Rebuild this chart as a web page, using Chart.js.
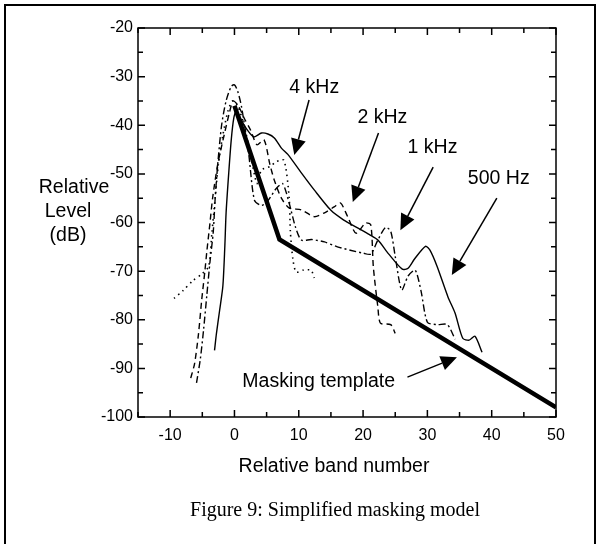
<!DOCTYPE html>
<html>
<head>
<meta charset="utf-8">
<script src="https://cdn.jsdelivr.net/npm/chart.js@4.4.0/dist/chart.umd.min.js"></script>
<style>
  html, body { margin: 0; padding: 0; background: #fff; }
  #wrap { width: 600px; height: 544px; }
</style>
</head>
<body>
<div id="wrap"><canvas id="maskChart" width="600" height="544"></canvas></div>
<script>
// Tick labels
var xTickLabels = [-10, 0, 10, 20, 30, 40, 50];
var yTickLabels = [-100, -90, -80, -70, -60, -50, -40, -30, -20];

// Curves: [band, dB]
var curve4k = [[-3.1,-86.3],[-2.8,-82.8],[-2.3,-78],[-1.8,-73],[-1.5,-65],[-1.3,-58],[-0.9,-50],[-0.5,-43],[-0.1,-38.5],[0.3,-37],
  [1.5,-40],[3,-42.4],[4.2,-41.6],[5.2,-41.8],[6.2,-42.6],[7.3,-44.7],[8.3,-46],[10.4,-49.8],[12.4,-53.3],[15,-57.5],[17,-59.5],
  [19,-61],[21,-62.5],[22.3,-63.6],[24,-66.5],[26.1,-69.6],[27,-69.4],[28,-67.5],[29.7,-64.9],[30.4,-65.7],[31.5,-69],[33.2,-75.3],
  [34.3,-78.6],[35.5,-83.8],[36.5,-84.2],[37.4,-83.4],[38.5,-86.7]];

var curve2k = [[-6.8,-92],[-6.2,-89],[-5.6,-83],[-5.1,-76],[-4.6,-70],[-4.3,-66],[-3.8,-60],[-3.4,-55],[-2.6,-48],[-1.6,-42],
  [-0.8,-37.5],[-0.2,-35],[0.6,-36],[1.5,-38.5],[2.5,-41],[3.5,-44],[4.6,-43],[5.5,-48],[6.2,-51.3],[7.3,-55],[8.5,-57],[10.4,-57.4],
  [12.4,-58.8],[14,-58],[15.5,-56.8],[16.5,-56],[17.6,-58.8],[18.9,-62.2],[20.4,-60.1],[21.2,-60.5],[21.6,-69.2],[22.3,-77.4],
  [22.7,-80.7],[24.3,-81],[25,-82.8]];

var curve1k = [[-5.9,-93],[-5.3,-88],[-4.8,-82],[-4.3,-75],[-3.8,-68],[-3.3,-62],[-3,-55],[-2.6,-48],[-2,-40],[-1.3,-35],
  [-0.5,-32],[0,-31.7],[0.5,-33],[1.1,-36.2],[2.2,-45.7],[3.1,-55.4],[4.2,-56.5],[5.2,-55.5],[6.5,-53],[7.5,-52],[8.5,-56],
  [9.5,-61],[10.4,-63.6],[12,-63.5],[14,-64],[16,-65],[18,-65.7],[20,-66.3],[21.2,-66.5],[22.3,-63.6],[23.5,-61],[24.3,-61.8],
  [25,-67],[26,-73.9],[27,-71],[28.1,-69.8],[29,-74],[30,-80.5],[31.5,-81],[33.1,-81],[34.3,-84]];

var curve500 = [[-9.4,-75.6],[-8,-74],[-6.5,-72],[-5,-70.5],[-4,-69],[-3.5,-62],[-3,-55],[-2.5,-48],[-1.8,-42],[-1,-37],
  [-0.3,-35],[0.5,-36],[1.5,-40],[2.5,-46],[3.5,-52],[4.2,-49.2],[5.5,-48.5],[6.5,-47.5],[7.7,-47.2],[8.5,-54.8],[8.7,-62],
  [9.1,-67.7],[9.6,-70.2],[10.7,-69.8],[11.9,-69.8],[12.4,-71.4]];

var template = [[0,-36],[7,-63.5],[50,-98]];

// Annotation labels with text anchor and arrow (start -> tip), in data units
var noteText = ['4 kHz', '2 kHz', '1 kHz', '500 Hz', 'Masking template'];
var noteAt = [[12.4,-32.3],[23.0,-38.5],[30.8,-44.7],[41.1,-50.9],[13.1,-92.8]];
var noteArrow = [[11.6,-34.8,9.3,-46.1],[22.4,-41.6,18.4,-55.8],[30.9,-48.6,25.8,-61.6],[40.8,-55,33.8,-70.8],[26.9,-91.8,34.6,-87.7]];

function toXY(pts) {
  return pts.map(function (p) { return { x: p[0], y: p[1] }; });
}

Chart.defaults.font.family = '"Liberation Sans", Arial, sans-serif';
Chart.defaults.color = '#000';

var decor = {
  id: 'decor',
  beforeDraw: function (chart) {
    var ctx = chart.ctx;
    ctx.save();
    ctx.fillStyle = '#fff';
    ctx.fillRect(0, 0, chart.width, chart.height);
    // outer figure frame
    ctx.strokeStyle = '#000';
    ctx.lineWidth = 2;
    ctx.beginPath();
    ctx.moveTo(5, chart.height + 5);
    ctx.lineTo(5, 5);
    ctx.lineTo(595, 5);
    ctx.lineTo(595, chart.height + 5);
    ctx.stroke();
    ctx.restore();
  },
  afterDraw: function (chart) {
    var ctx = chart.ctx, a = chart.chartArea, x = chart.scales.x, y = chart.scales.y;
    ctx.save();
    ctx.strokeStyle = '#000';
    ctx.lineWidth = 1.5;
    ctx.strokeRect(a.left, a.top, a.right - a.left, a.bottom - a.top);

    // inward tick marks on all four sides
    ctx.beginPath();
    x.ticks.forEach(function (t) {
      var px = x.getPixelForValue(t.value);
      var len = t.value % 10 === 0 ? 7 : 5;
      ctx.moveTo(px, a.bottom); ctx.lineTo(px, a.bottom - len);
      ctx.moveTo(px, a.top); ctx.lineTo(px, a.top + len);
    });
    y.ticks.forEach(function (t) {
      var py = y.getPixelForValue(t.value);
      var len = t.value % 10 === 0 ? 7 : 5;
      ctx.moveTo(a.left, py); ctx.lineTo(a.left + len, py);
      ctx.moveTo(a.right, py); ctx.lineTo(a.right - len, py);
    });
    ctx.stroke();

    // annotations
    ctx.font = '19.5px "Liberation Sans", Arial, sans-serif';
    ctx.fillStyle = '#000';
    ctx.textAlign = 'center';
    ctx.textBaseline = 'middle';
    ctx.lineWidth = 1.5;
    noteText.forEach(function (txt, i) {
      ctx.fillText(txt, x.getPixelForValue(noteAt[i][0]), y.getPixelForValue(noteAt[i][1]));
      var ar = noteArrow[i];
      var x0 = x.getPixelForValue(ar[0]), y0 = y.getPixelForValue(ar[1]);
      var x1 = x.getPixelForValue(ar[2]), y1 = y.getPixelForValue(ar[3]);
      var ang = Math.atan2(y1 - y0, x1 - x0);
      var hl = 16, hw = 7.5;
      var bx = x1 - hl * Math.cos(ang), by = y1 - hl * Math.sin(ang);
      ctx.beginPath();
      ctx.moveTo(x0, y0); ctx.lineTo(bx, by);
      ctx.stroke();
      ctx.beginPath();
      ctx.moveTo(x1, y1);
      ctx.lineTo(bx + hw * Math.sin(ang), by - hw * Math.cos(ang));
      ctx.lineTo(bx - hw * Math.sin(ang), by + hw * Math.cos(ang));
      ctx.closePath();
      ctx.fill();
    });

    // axis titles
    ctx.fillText('Relative band number', 334, 467);
    ctx.fillText('Relative', 74, 188);
    ctx.fillText('Level', 68, 212);
    ctx.fillText('(dB)', 68, 236);

    // caption
    ctx.font = '20px "Liberation Serif", "Times New Roman", serif';
    ctx.fillText('Figure 9: Simplified masking model', 335, 511);
    ctx.restore();
  }
};

var ctx = document.getElementById('maskChart').getContext('2d');

var data = {
  datasets: [
    { label: '4 kHz', data: toXY(curve4k), borderColor: '#000', borderWidth: 1.4, tension: 0.25 },
    { label: '2 kHz', data: toXY(curve2k), borderColor: '#000', borderWidth: 1.4, borderDash: [6, 4], tension: 0.25 },
    { label: '1 kHz', data: toXY(curve1k), borderColor: '#000', borderWidth: 1.4, borderDash: [7, 3, 2, 3], tension: 0.25 },
    { label: '500 Hz', data: toXY(curve500), borderColor: '#000', borderWidth: 1.6, borderDash: [1.5, 4], tension: 0.25 },
    { label: 'Masking template', data: toXY(template), borderColor: '#000', borderWidth: 4.5, tension: 0 },
  ],
};

var options = {
  responsive: false,
  animation: false,
  events: [],
  layout: { padding: { top: 28, right: 44, left: 0, bottom: 0 } },
  elements: { point: { radius: 0 } },
  plugins: { legend: { display: false }, tooltip: { enabled: false } },
  scales: {
    x: {
      type: 'linear',
      min: -15,
      max: 50,
      grid: { display: false, drawTicks: false },
      border: { display: false },
      ticks: {
        stepSize: 5,
        padding: 9,
        maxRotation: 0,
        font: { size: 16 },
        callback: function (v) { return xTickLabels.indexOf(v) >= 0 ? String(v) : ''; },
      },
      afterFit: function (s) { s.height = 127; },
    },
    y: {
      type: 'linear',
      min: -100,
      max: -20,
      grid: { display: false, drawTicks: false },
      border: { display: false },
      ticks: {
        stepSize: 5,
        padding: 5,
        font: { size: 16 },
        callback: function (v) { return yTickLabels.indexOf(v) >= 0 ? String(v) : ''; },
      },
      afterFit: function (s) { s.width = 138; },
    },
  },
};

var maskChart = new Chart(ctx, {
  type: 'line',
  data: data,
  options: options,
  plugins: [decor],
});
</script>
</body>
</html>
